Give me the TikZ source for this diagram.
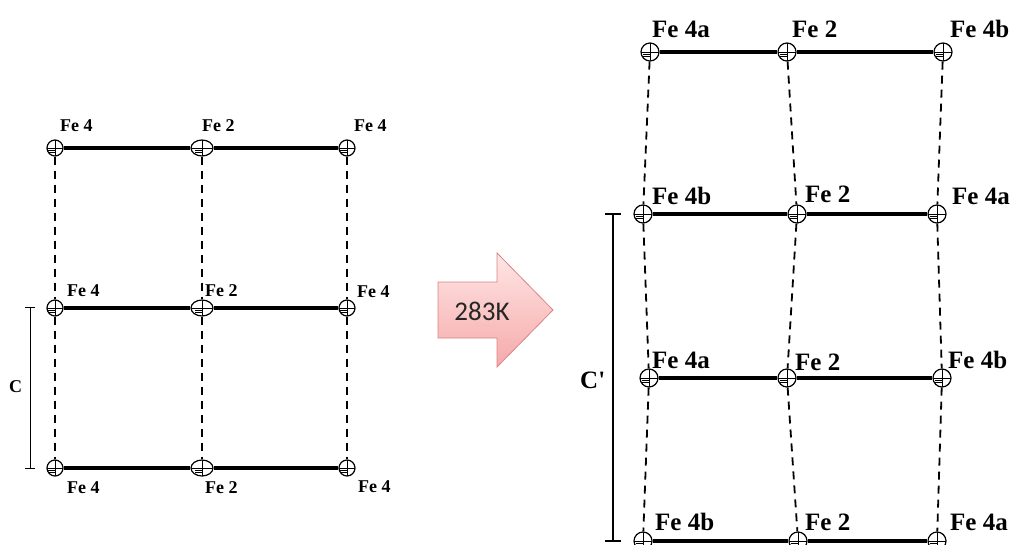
\documentclass[tikz,border=0pt]{standalone}
\usepackage{fontspec}
\setmainfont{Liberation Serif}
\newfontfamily\arrowfont{Carlito}
\usepackage{tikz}
\usetikzlibrary{positioning,shapes.geometric}
\definecolor{arrowEdge}{HTML}{D98585}
\definecolor{arrowTop}{HTML}{FFE6E6}
\definecolor{arrowBot}{HTML}{F6A9A9}

\tikzset{
  atom/.style={circle, draw, line width=1.2pt, minimum size=#1, inner sep=0pt, fill=white,
    path picture={
      \draw[line width=0.9pt] (path picture bounding box.west) -- (path picture bounding box.east)
        (path picture bounding box.north) -- (path picture bounding box.south);
      \draw[line width=0.6pt] ([yshift=-2.5pt]path picture bounding box.center) -- ++(-7pt,0pt)
        ([yshift=-4.5pt]path picture bounding box.center) -- ++(-7pt,0pt);
    }},
  atom/.default=16pt,
  wideatom/.style={atom, ellipse, minimum width=22pt, minimum height=16pt},
  bond/.style={line width=3.2pt},
  link/.style={line width=1.8pt, dash pattern=on 8pt off 6pt},
  lblS/.style={font=\bfseries\fontsize{18}{18}\selectfont, anchor=base west, inner sep=0pt},
  lblL/.style={font=\bfseries\fontsize{25}{25}\selectfont, anchor=base west, inner sep=0pt},
  bar/.style={line width=#1},
}

\begin{document}
\begin{tikzpicture}[x=1pt, y=-1pt]
\useasboundingbox (0,0) rectangle (1016,545);

% left cell
\foreach \r/\y in {1/148, 2/308, 3/468} {
  \node[atom] (l\r1) at (55,\y) {};
  \node[wideatom] (l\r2) at (202,\y) {};
  \node[atom] (l\r3) at (347,\y) {};
}
\foreach \r in {1,2,3} {
  \draw[bond] (l\r1) -- (l\r2);
  \draw[bond] (l\r2) -- (l\r3);
}
\foreach \c in {1,2,3} {
  \draw[link] (l1\c) -- (l2\c);
  \draw[link] (l2\c) -- (l3\c);
}
\node[lblS] (lt11) at (60,132) {Fe 4};
\node[lblS] (lt12) at (202,132) {Fe 2};
\node[lblS] (lt13) at (354,132) {Fe 4};
\node[lblS] (lt21) at (67,296) {Fe 4};
\node[lblS] (lt22) at (205,296) {Fe 2};
\node[lblS] (lt23) at (357,297) {Fe 4};
\node[lblS] (lt31) at (67,493) {Fe 4};
\node[lblS] (lt32) at (205,493) {Fe 2};
\node[lblS] (lt33) at (358,492) {Fe 4};

% left repeat length
\coordinate (cTop) at (30,307);
\coordinate (cBot) at (30,468);
\draw[bar=0.8pt] (cTop) -- (cBot);
\draw[bar=0.8pt] ([xshift=-5pt]cTop) -- ([xshift=5pt]cTop);
\draw[bar=0.8pt] ([xshift=-5pt]cBot) -- ([xshift=5pt]cBot);
\node[lblS] (cLbl) at (9,392) {C};

% transition arrow
\shade[top color=arrowTop, bottom color=arrowBot, draw=arrowEdge, line width=0.8pt]
  (438,282) -- (497,282) -- (497,253) -- (553,310) -- (497,367) -- (497,338) -- (438,338) -- cycle;
\node[font=\arrowfont\fontsize{27}{27}\selectfont, text=black!85, anchor=base, inner sep=0pt] (temp) at (482,320) {283K};

% right cell
\node[atom=18pt] (r11) at (650,52) {};
\node[atom=18pt] (r12) at (787,52) {};
\node[atom=18pt] (r13) at (943,52) {};
\node[atom=18pt] (r21) at (643,214) {};
\node[atom=18pt] (r22) at (797,214) {};
\node[atom=18pt] (r23) at (937,214) {};
\node[atom=18pt] (r31) at (649,378) {};
\node[atom=18pt] (r32) at (787,378) {};
\node[atom=18pt] (r33) at (942,378) {};
\node[atom=18pt] (r41) at (643,541) {};
\node[atom=18pt] (r42) at (798,541) {};
\node[atom=18pt] (r43) at (937,541) {};
\foreach \r in {1,2,3,4} {
  \draw[bond] (r\r1) -- (r\r2);
  \draw[bond] (r\r2) -- (r\r3);
}
\foreach \c in {1,2,3} {
  \draw[link] (r1\c) -- (r2\c);
  \draw[link] (r2\c) -- (r3\c);
  \draw[link] (r3\c) -- (r4\c);
}
\node[lblL] (rt11) at (652,38) {Fe 4a};
\node[lblL] (rt12) at (792,38) {Fe 2};
\node[lblL] (rt13) at (950,38) {Fe 4b};
\node[lblL] (rt21) at (652,205) {Fe 4b};
\node[lblL] (rt22) at (805,203) {Fe 2};
\node[lblL] (rt23) at (952,205) {Fe 4a};
\node[lblL] (rt31) at (652,368) {Fe 4a};
\node[lblL] (rt32) at (795,370) {Fe 2};
\node[lblL] (rt33) at (948,368) {Fe 4b};
\node[lblL] (rt41) at (655,530) {Fe 4b};
\node[lblL] (rt42) at (805,530) {Fe 2};
\node[lblL] (rt43) at (950,530) {Fe 4a};

% right repeat length
\coordinate (dTop) at (613,214);
\coordinate (dBot) at (613,541);
\draw[bar=1.4pt] (dTop) -- (dBot);
\draw[bar=1.4pt] ([xshift=-8pt]dTop) -- ([xshift=8pt]dTop);
\draw[bar=1.4pt] ([xshift=-8pt]dBot) -- ([xshift=8pt]dBot);
\node[lblL] (dLbl) at (580,388) {C\textquotesingle};
\end{tikzpicture}
\end{document}
